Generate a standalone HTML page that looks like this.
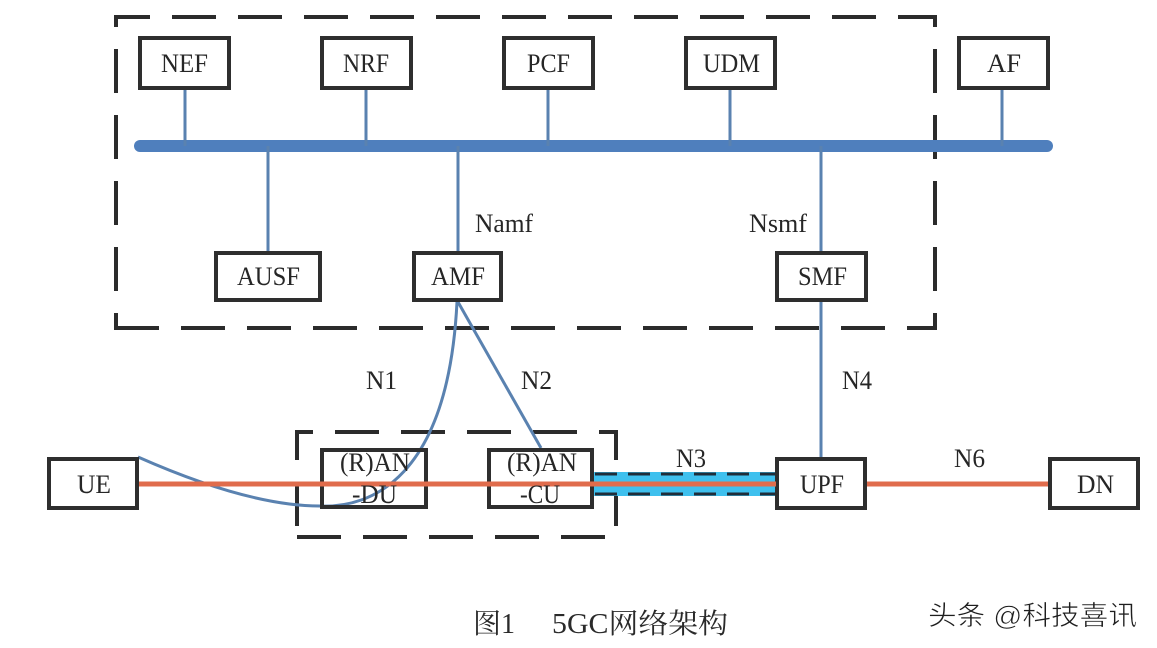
<!DOCTYPE html>
<html>
<head>
<meta charset="utf-8">
<style>
html,body{margin:0;padding:0;background:#fff;}
svg{display:block;}
.t{font-family:"Liberation Serif","Noto Serif CJK SC",serif;font-size:26px;fill:#262626;}
.cap{font-family:"Liberation Serif","Noto Serif CJK SC",serif;font-size:28px;fill:#2a2a2a;}
.wm{font-family:"Liberation Sans","Noto Sans CJK SC",sans-serif;font-size:27px;fill:#1e1e1e;}
</style>
</head>
<body>
<svg width="1157" height="648" viewBox="0 0 1157 648" xmlns="http://www.w3.org/2000/svg">
<rect x="0" y="0" width="1157" height="648" fill="#fff"/>

<!-- Outer dashed core box -->
<g stroke="#2b2b2b" stroke-width="4" fill="none" stroke-dasharray="44 22">
  <line x1="114" y1="17" x2="937" y2="17" stroke-dashoffset="8"/>
  <line x1="116" y1="15" x2="116" y2="330" stroke-dashoffset="32"/>
  <line x1="935" y1="15" x2="935" y2="330" stroke-dashoffset="32"/>
  <line x1="114" y1="328" x2="937" y2="328" stroke-dashoffset="-1"/>
</g>

<!-- RAN dashed box -->
<g stroke="#2b2b2b" stroke-width="4" fill="none" stroke-dasharray="44 22">
  <line x1="295" y1="432" x2="618" y2="432" stroke-dashoffset="26"/>
  <line x1="297" y1="430" x2="297" y2="527" stroke-dashoffset="14"/>
  <line x1="616" y1="430" x2="616" y2="527" stroke-dashoffset="14"/>
  <line x1="297" y1="537" x2="606" y2="537" stroke-dashoffset="0"/>
</g>

<!-- N3 tube -->
<rect x="594" y="472" width="182" height="24" fill="#3ec0ee"/>
<g stroke="#1f2d3a" stroke-width="3" stroke-dasharray="22 11">
  <line x1="595" y1="474" x2="776" y2="474"/>
  <line x1="595" y1="494" x2="776" y2="494"/>
</g>

<!-- Service bus -->
<line x1="140" y1="146" x2="1047" y2="146" stroke="#4f7fbd" stroke-width="12" stroke-linecap="round"/>

<!-- Stubs -->
<g stroke="#5a82b0" stroke-width="3">
  <line x1="185" y1="90" x2="185" y2="146"/>
  <line x1="366" y1="90" x2="366" y2="146"/>
  <line x1="548" y1="90" x2="548" y2="146"/>
  <line x1="730" y1="90" x2="730" y2="146"/>
  <line x1="1002" y1="90" x2="1002" y2="146"/>
  <line x1="268" y1="146" x2="268" y2="251"/>
  <line x1="458" y1="146" x2="458" y2="251"/>
  <line x1="821" y1="146" x2="821" y2="251"/>
  <line x1="821" y1="302" x2="821" y2="457"/>
  <line x1="458" y1="302" x2="541" y2="448"/>
</g>
<!-- N1 curve -->
<path d="M138,457 C190,480 260,506 320,506 C370,508 448,480 457,302" stroke="#5a82b0" stroke-width="3" fill="none"/>

<!-- Boxes -->
<g stroke="#2e2e2e" stroke-width="4" fill="none">
  <rect x="140" y="38" width="89" height="50"/>
  <rect x="322" y="38" width="89" height="50"/>
  <rect x="504" y="38" width="89" height="50"/>
  <rect x="686" y="38" width="89" height="50"/>
  <rect x="959" y="38" width="89" height="50"/>
  <rect x="216" y="253" width="104" height="47"/>
  <rect x="414" y="253" width="87" height="47"/>
  <rect x="777" y="253" width="89" height="47"/>
  <rect x="49" y="459" width="88" height="49"/>
  <rect x="322" y="450" width="104" height="57"/>
  <rect x="489" y="450" width="103" height="57"/>
  <rect x="777" y="459" width="88" height="49"/>
  <rect x="1050" y="459" width="88" height="49"/>
</g>

<!-- Orange user-plane line -->
<g stroke="#e06c4c" stroke-width="5">
  <line x1="139" y1="484" x2="776" y2="484"/>
  <line x1="867" y1="484" x2="1048" y2="484"/>
</g>

<!-- Box labels -->
<g class="t">
  <text x="161" y="72" textLength="47" lengthAdjust="spacingAndGlyphs">NEF</text>
  <text x="343" y="72" textLength="46" lengthAdjust="spacingAndGlyphs">NRF</text>
  <text x="527" y="72" textLength="43" lengthAdjust="spacingAndGlyphs">PCF</text>
  <text x="703" y="72" textLength="57" lengthAdjust="spacingAndGlyphs">UDM</text>
  <text x="987" y="72" textLength="34" lengthAdjust="spacingAndGlyphs">AF</text>
  <text x="237" y="285" textLength="63" lengthAdjust="spacingAndGlyphs">AUSF</text>
  <text x="431" y="285" textLength="54" lengthAdjust="spacingAndGlyphs">AMF</text>
  <text x="798" y="285" textLength="49" lengthAdjust="spacingAndGlyphs">SMF</text>
  <text x="77" y="493" textLength="34" lengthAdjust="spacingAndGlyphs">UE</text>
  <text x="800" y="493" textLength="44" lengthAdjust="spacingAndGlyphs">UPF</text>
  <text x="1077" y="493" textLength="37" lengthAdjust="spacingAndGlyphs">DN</text>
  <text x="340" y="471" textLength="70" lengthAdjust="spacingAndGlyphs">(R)AN</text>
  <text x="352" y="503" textLength="45" lengthAdjust="spacingAndGlyphs">-DU</text>
  <text x="507" y="471" textLength="70" lengthAdjust="spacingAndGlyphs">(R)AN</text>
  <text x="520" y="503" textLength="40" lengthAdjust="spacingAndGlyphs">-CU</text>

  <text x="475" y="232" textLength="58" lengthAdjust="spacingAndGlyphs">Namf</text>
  <text x="749" y="232" textLength="58" lengthAdjust="spacingAndGlyphs">Nsmf</text>
  <text x="366" y="389" textLength="31" lengthAdjust="spacingAndGlyphs">N1</text>
  <text x="521" y="389" textLength="31" lengthAdjust="spacingAndGlyphs">N2</text>
  <text x="842" y="389" textLength="30" lengthAdjust="spacingAndGlyphs">N4</text>
  <text x="676" y="467" textLength="30" lengthAdjust="spacingAndGlyphs">N3</text>
  <text x="954" y="467" textLength="31" lengthAdjust="spacingAndGlyphs">N6</text>
</g>

<!-- Caption -->
<text class="cap" x="473" y="633" textLength="42" lengthAdjust="spacingAndGlyphs">图1</text>
<text class="cap" x="552" y="633" textLength="176" lengthAdjust="spacingAndGlyphs">5GC网络架构</text>

<!-- Watermark -->
<text class="wm" x="928" y="625" textLength="209" lengthAdjust="spacingAndGlyphs" stroke="#ffffff" stroke-width="0.6">头条 @科技喜讯</text>
</svg>
</body>
</html>
